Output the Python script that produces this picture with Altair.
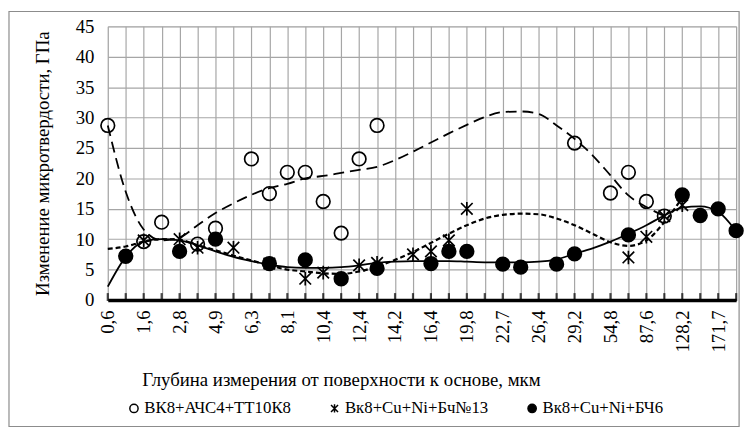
import json
import altair as alt
import pandas as pd

# ---------------- data ----------------
xlabels = ["0,6", "1,6", "2,8", "4,9", "6,3", "8,1", "10,4", "12,4", "14,2", "16,4",
           "19,8", "22,7", "26,4", "29,2", "54,8", "87,6", "128,2", "171,7"]
n_cat = 36  # category slots on the axis (labels shown on every second one)

names = ["ВК8+АЧС4+ТТ10К8", "Вк8+Cu+Ni+Бч№13", "Вк8+Cu+Ni+БЧ6"]

a_idx = [0, 2, 3, 5, 6, 8, 9, 10, 11, 12, 13, 14, 15, 26, 28, 29, 30, 31]
a_val = [28.7, 9.6, 12.8, 9.2, 11.8, 23.2, 17.5, 21.0, 21.0, 16.2, 11.0, 23.2, 28.7,
         25.8, 17.6, 21.0, 16.2, 13.8]

b_idx = [2, 4, 5, 7, 9, 11, 12, 14, 15, 17, 18, 19, 20, 29, 30, 31, 32]
b_val = [9.8, 10.0, 8.6, 8.6, 6.0, 3.5, 4.5, 5.7, 6.1, 7.5, 8.0, 9.8, 15.0, 7.0, 10.4,
         13.8, 15.6]

c_idx = [1, 4, 6, 9, 11, 13, 15, 18, 19, 20, 22, 23, 25, 26, 29, 32, 33, 34, 35]
c_val = [7.2, 8.0, 10.0, 6.0, 6.6, 3.5, 5.2, 6.0, 8.0, 8.0, 5.9, 5.4, 5.9, 7.6, 10.7,
         17.3, 13.9, 15.0, 11.4]

# trend curves at each category slot
a_trend = [28.7, 17.8, 11.6, 9.8, 10.3, 12.3, 14.3, 15.9, 17.3, 18.4, 19.1, 20.0, 20.4,
           20.9, 21.4, 21.9, 23.0, 24.4, 25.9, 27.4, 28.8, 30.1, 30.9, 31.0, 30.6, 28.7,
           26.5, 23.8, 20.5, 17.2, 15.3, 13.8]
b_trend = [8.4, 8.8, 9.6, 10.0, 9.9, 9.0, 8.2, 7.3, 6.5, 5.7, 5.0, 4.7, 4.4, 4.3, 4.7,
           5.5, 6.6, 7.9, 9.4, 10.9, 12.3, 13.4, 14.0, 14.2, 14.1, 13.4, 12.3, 10.9, 9.5,
           8.9, 9.8, 12.8, 16.8]
c_trend = [2.2, 7.1, 9.6, 10.0, 9.8, 9.0, 8.0, 7.1, 6.4, 5.8, 5.4, 5.3, 5.3, 5.4, 5.7,
           6.1, 6.3, 6.4, 6.4, 6.4, 6.3, 6.2, 6.2, 6.2, 6.3, 6.7, 7.6, 8.5, 9.6, 10.9,
           12.3, 13.9, 15.2, 15.4, 14.5, 11.3]

# ---------------- tables ----------------
pts = pd.DataFrame(
    [{"series": names[0], "idx": i, "val": v} for i, v in zip(a_idx, a_val)]
    + [{"series": names[1], "idx": i, "val": v} for i, v in zip(b_idx, b_val)]
    + [{"series": names[2], "idx": i, "val": v} for i, v in zip(c_idx, c_val)]
)
ta = pd.DataFrame({"idx": list(range(len(a_trend))), "val": a_trend})
tb = pd.DataFrame({"idx": list(range(len(b_trend))), "val": b_trend})
tc = pd.DataFrame({"idx": list(range(len(c_trend))), "val": c_trend})
ticks = pd.DataFrame({"idx": list(range(n_cat))})

W, H = 636, 277
FONT = "Liberation Serif"
GRID = "#a6a6a6"

label_expr = "datum.value % 2 === 0 ? " + json.dumps(xlabels, ensure_ascii=False) + "[datum.value / 2] : ''"

xscale = alt.Scale(domain=[0, n_cat - 1], nice=False, zero=False)
yscale = alt.Scale(domain=[0, 45], nice=False)

x_axis = alt.Axis(values=list(range(n_cat)), labelExpr=label_expr, labelAngle=-90,
                  labelFont=FONT, labelFontSize=19, labelColor="black", labelPadding=10,
                  title="Глубина измерения от поверхности к основе, мкм",
                  titleFont=FONT, titleFontSize=19, titleFontWeight="normal",
                  titleColor="black", titlePadding=19, titleX=236, titleAlign="center",
                  grid=True, gridColor=GRID, gridWidth=1.2, ticks=False,
                  domain=True, domainColor="black", domainWidth=3.5, labelOverlap=False)
y_axis = alt.Axis(values=list(range(0, 46, 5)), labelFont=FONT, labelFontSize=19,
                  labelColor="black", labelPadding=14,
                  title="Изменение микротвердости, ГПа", titleFont=FONT, titleFontSize=19,
                  titleFontWeight="normal", titleColor="black", titlePadding=23,
                  grid=True, gridColor=GRID, gridWidth=1.2, ticks=False, domain=False)

X = alt.X("idx:Q", scale=xscale, axis=x_axis)
Y = alt.Y("val:Q", scale=yscale, axis=y_axis)

border = alt.Chart(alt.Data(values=[{"a": 1}])).mark_rect(
    fill="transparent", stroke="#8c8c8c", strokeWidth=1.2
).encode(x=alt.value(-100), x2=alt.value(W + 3), y=alt.value(-15), y2=alt.value(H + 128))

tick_marks = alt.Chart(ticks).mark_tick(color="black", thickness=2.2, size=8, orient="vertical").encode(
    x=alt.X("idx:Q", scale=xscale, axis=x_axis), y=alt.value(H - 3)
)

line_a = alt.Chart(ta).mark_line(color="black", strokeWidth=1.8, strokeDash=[11, 6],
                                 interpolate="monotone").encode(x=X, y=Y)
line_b = alt.Chart(tb).mark_line(color="black", strokeWidth=2.2, strokeDash=[5, 3],
                                 interpolate="monotone").encode(x=X, y=Y)
line_c = alt.Chart(tc).mark_line(color="black", strokeWidth=1.8,
                                 interpolate="monotone").encode(x=X, y=Y)

ast = "M -0.85 -0.85 L 0.85 0.85 M -0.85 0.85 L 0.85 -0.85 M 0 -1 L 0 1"
leg = alt.Legend(title=None, orient="none", legendX=18, legendY=H + 101,
                 direction="horizontal", labelFont=FONT,
                 labelFontSize=17, labelColor="black", symbolSize=70,
                 symbolStrokeWidth=1.5, columnPadding=35,
                 labelOffset=2, labelLimit=400)

points = alt.Chart(pts).mark_point(filled=True, strokeWidth=1.7, size=190,
                                   opacity=1).encode(
    x=X, y=Y,
    shape=alt.Shape("series:N", scale=alt.Scale(domain=names, range=["circle", ast, "circle"]),
                    legend=leg),
    fill=alt.Fill("series:N", scale=alt.Scale(domain=names, range=["transparent", "black", "black"]),
                  legend=leg),
    stroke=alt.Stroke("series:N", scale=alt.Scale(domain=names, range=["black", "black", "black"]),
                      legend=leg),
)

chart = alt.layer(border, tick_marks, line_a, line_b, line_c, points).properties(
    width=W, height=H, padding=0
).configure_view(fill="#e6e6e6", stroke=GRID, strokeWidth=1.2).configure(background="white")

chart.save("out.html", embed_options={"renderer": "svg", "actions": False})
